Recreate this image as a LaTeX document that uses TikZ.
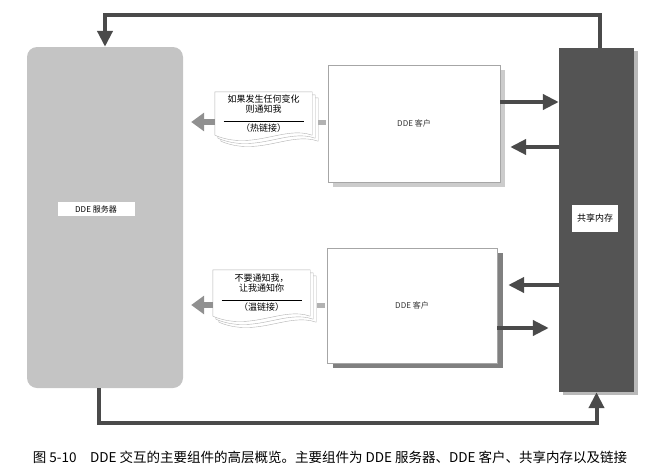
\documentclass[tikz,border=0pt]{standalone}
\usepackage{fontspec}
\setmainfont{Liberation Serif}
\newfontfamily\cjk{Noto Sans CJK SC}
\usetikzlibrary{arrows.meta,shadows,backgrounds}

\definecolor{linkgray}{HTML}{4A4A4A}
\definecolor{memgray}{HTML}{545454}
\definecolor{srvgray}{HTML}{C4C4C4}
\definecolor{docarrow}{HTML}{909090}

% stacked sheets behind a note node
\newcommand{\docsheets}[1]{%
  \foreach \s in {6,3,0}{%
    \draw[sheet] ([shift={(\s,\s)}]#1.north west) -- ([shift={(\s,\s)}]#1.north east)
      -- ([shift={(\s,\s)}]#1.south east)
      .. controls +(-28,-10) and +(38,16) .. ([shift={(\s,\s)}]#1.south west) -- cycle;
  }%
}

\tikzset{
  tag/.style={fill=white, font=\cjk\fontsize{8}{9}\selectfont, inner xsep=5pt, inner ysep=3pt},
  client/.style={draw=gray!70, fill=white, line width=0.4pt, minimum width=172pt, minimum height=117pt,
    font=\cjk\fontsize{8}{9}\selectfont, text=black!80},
  note/.style={font=\cjk\fontsize{9}{10}\selectfont, align=center, minimum width=97pt, inner sep=2pt},
  sheet/.style={draw=gray!60, fill=white, line width=0.4pt},
  darrow/.style={draw=linkgray, line width=4pt, -{Triangle[length=16pt,width=15pt]}},
  garrow/.style={draw=docarrow, line width=6pt, -{Triangle[length=13pt,width=18pt]}, shorten >=8pt},
  stub/.style={draw=gray!60, line width=5pt},
}

\begin{document}
\begin{tikzpicture}[x=1pt, y=-1pt]
  \useasboundingbox (0,0) rectangle (659,469);

  % server and shared memory
  \node[fill=srvgray, rounded corners=10pt, minimum width=156pt, minimum height=341pt] (server) at (105,217.5) {};
  \node[tag, minimum width=77pt, minimum height=14pt] (srvtag) at (96,209) {DDE 服务器};
  \node[fill=memgray, minimum width=75pt, minimum height=344pt,
    drop shadow={shadow xshift=4pt, shadow yshift=-3pt, opacity=1, fill=gray!55}] (mem) at (596.5,220) {};
  \node[tag, font=\cjk\fontsize{9}{10}\selectfont, minimum height=27pt] (memtag) at (595,218) {共享内存};

  % clients
  \node[client, drop shadow={shadow xshift=5pt, shadow yshift=-5pt, opacity=1, fill=gray!40}] (client1) at (414,123.5) {DDE 客户};
  \node[client, minimum width=170pt, minimum height=115pt,
    drop shadow={shadow xshift=6pt, shadow yshift=-5pt, opacity=1, fill=black!50}] (client2) at (412,305.5) {DDE 客户};

  % notes
  \node[note, minimum height=43pt] (hot) at (263.5,113.5)
    {如果发生任何变化\\则通知我\\[-1pt]\rule{80pt}{0.5pt}\\（热链接）};
  \node[note, minimum height=46pt] (warm) at (261.5,293)
    {不要通知我，\\让我通知你\\[-1pt]\rule{80pt}{0.5pt}\\（温链接）};
  \begin{pgfonlayer}{background}
    \docsheets{hot}
    \docsheets{warm}
  \end{pgfonlayer}

  % notes to server
  \draw[garrow] ([yshift=-8.5pt]hot.west) -- ([yshift=-8.5pt]hot.west -| server.east);
  \draw[garrow] ([yshift=-12pt]warm.west) -- ([yshift=-12pt]warm.west -| server.east);
  \draw[stub] ([xshift=-2pt,yshift=1.5pt]client1.west) -- ++(-8,0);
  \draw[stub] ([xshift=-2pt]client2.west) -- ++(-8,0);

  % clients and shared memory
  \coordinate (c1out) at ([yshift=21.5pt]client1.east);
  \coordinate (c1in) at ([yshift=-23.5pt,xshift=10pt]client1.east);
  \coordinate (c2in) at ([yshift=20.5pt,xshift=11pt]client2.east);
  \coordinate (c2out) at ([yshift=-22.5pt]client2.east);
  \draw[darrow] (c1out) -- (c1out -| mem.west);
  \draw[darrow] (c1in -| mem.west) -- (c1in);
  \draw[darrow] (c2in -| mem.west) -- (c2in);
  \draw[darrow] (c2out) -- ([xshift=-10pt]c2out -| mem.west);

  % server <-> shared memory links
  \draw[darrow] ([xshift=3.5pt]mem.north) -- ++(0,-33) -| (server.north);
  \draw[darrow] ([xshift=-6pt]server.south) -- ++(0,35) -| (mem.south);

  \node[font=\cjk\fontsize{13.5}{15}\selectfont] (caption) at (330,457)
    {图 5-10\quad DDE 交互的主要组件的高层概览。主要组件为 DDE 服务器、DDE 客户、共享内存以及链接};
\end{tikzpicture}
\end{document}
